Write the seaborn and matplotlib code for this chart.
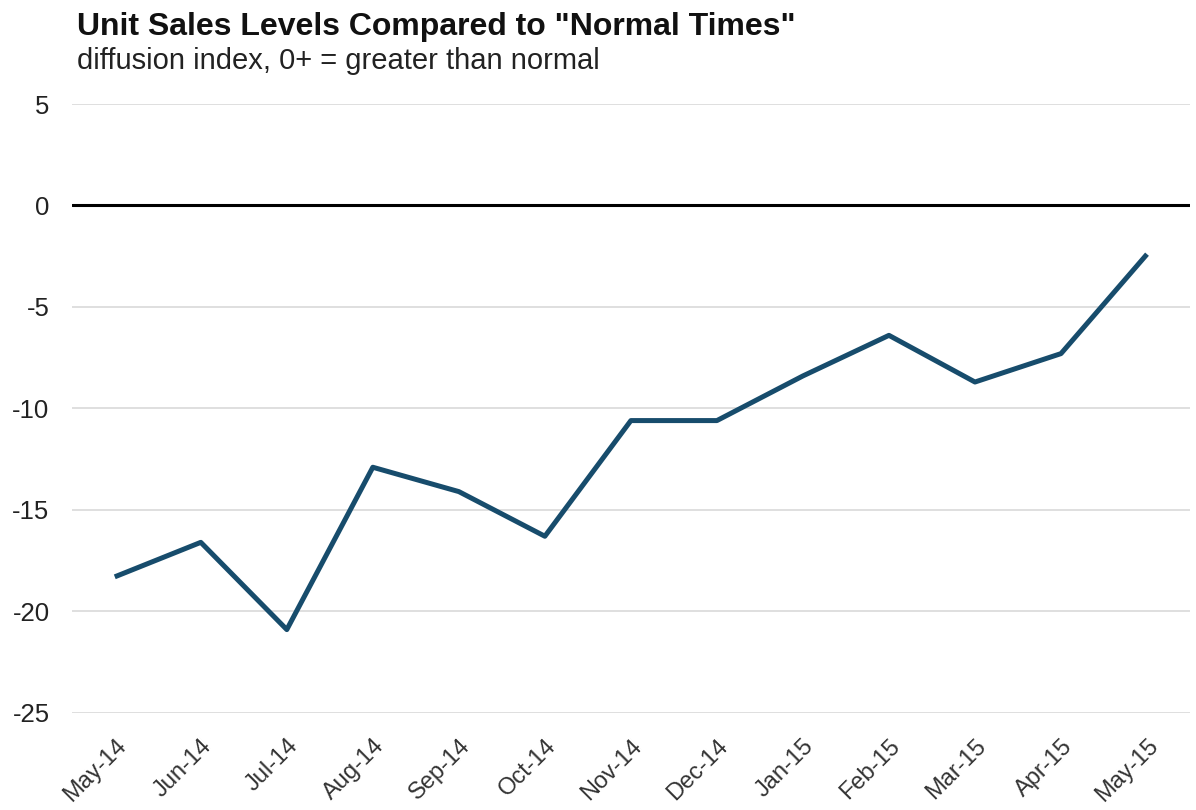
import matplotlib
matplotlib.use("Agg")
import matplotlib.pyplot as plt
import seaborn as sns
import pandas as pd

months = ["May-14", "Jun-14", "Jul-14", "Aug-14", "Sep-14", "Oct-14", "Nov-14",
          "Dec-14", "Jan-15", "Feb-15", "Mar-15", "Apr-15", "May-15"]
values = [-18.3, -16.6, -20.9, -12.9, -14.1, -16.3, -10.6,
          -10.6, -8.4, -6.4, -8.7, -7.3, -2.4]
y_ticks = [5, 0, -5, -10, -15, -20, -25]

sns.set_theme(style="white")
plt.rcParams['font.family'] = ['Liberation Sans', 'DejaVu Sans']

df = pd.DataFrame({"month": months, "value": values})
df["pos"] = range(len(months))

fig = plt.figure(figsize=(11.96, 8.10), dpi=100)
ax = fig.add_axes([0.060, 0.120, 0.935, 0.7516])

for t in y_ticks:
    if t == 0:
        ax.axhline(t, color="black", lw=2.2, zorder=2)
    else:
        ax.axhline(t, color="#d9d9d9", lw=1.2, zorder=1)

sns.lineplot(data=df, x="pos", y="value", ax=ax, color="#174c6c", lw=3.6,
             zorder=3, solid_capstyle="butt")

ax.set_xlim(-0.5, len(months) - 0.5)
ax.set_ylim(-25, 5)
ax.set_yticks(y_ticks)
ax.set_yticklabels([str(t) for t in y_ticks], fontsize=18.5, color="#222222")
ax.set_xticks(df["pos"])
ax.set_xticklabels(months, rotation=45, ha="right", rotation_mode="anchor",
                   fontsize=17, color="#333333")
ax.tick_params(axis="y", length=0, pad=16)
ax.tick_params(axis="x", length=0, pad=16)
ax.set_xlabel("")
ax.set_ylabel("")
for s in ax.spines.values():
    s.set_visible(False)

fig.text(0.064, 0.957, 'Unit Sales Levels Compared to "Normal Times"',
         fontsize=23, fontweight="bold", color="#111111", va="baseline", ha="left")
fig.text(0.064, 0.915, "diffusion index, 0+ = greater than normal",
         fontsize=21, color="#222222", va="baseline", ha="left")

fig.savefig("out.png", dpi=100, facecolor="white")
